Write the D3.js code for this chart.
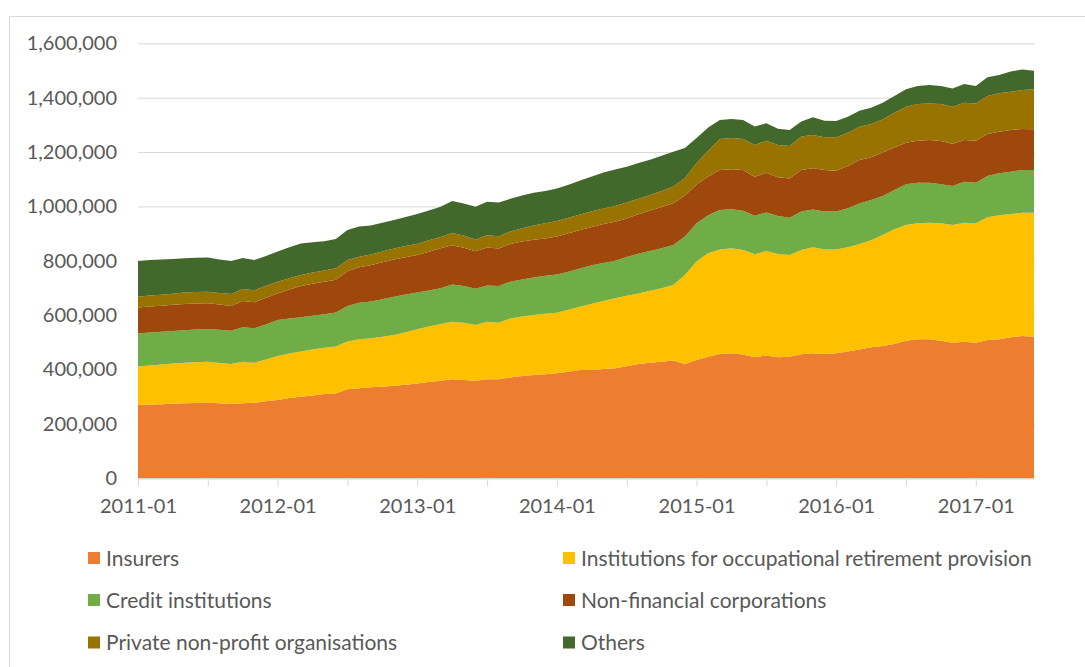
<!DOCTYPE html>
<html>
<head>
<meta charset="utf-8">
<title>Holdings by sector</title>
<script src="https://d3js.org/d3.v7.min.js"></script>
<style>
  body { margin: 0; background: #fff; }
  svg text { font-family: Lato, "Open Sans", sans-serif; fill: #595959; }
</style>
</head>
<body>
<svg id="chart" width="1085" height="667"></svg>
<script>

// months on the x axis, 2011-01 .. 2017-06
var months = d3.timeMonths(new Date(2011, 0, 1), new Date(2017, 6, 1)).map(d3.timeFormat("%Y-%m"));

// values, in thousands
var insurers = [270,271,272,274,276,277,278,276,273,276,278,283,288,295,300,305,310,312,328,331,
  335,337,340,344,349,354,359,364,362,359,364,364,371,376,380,383,386,392,398,398,
  402,405,412,420,425,429,433,420,435,447,457,460,455,445,452,445,447,456,460,457,
  460,466,474,482,487,494,506,511,511,506,499,502,499,509,511,519,523,521];
var iorp = [141,144,147,148,149,150,151,148,147,153,147,154,162,164,166,169,170,173,175,180,
  180,184,187,193,199,204,209,212,210,205,212,208,217,219,221,222,223,228,233,244,
  250,257,259,260,265,270,278,328,362,381,385,386,385,379,384,380,374,384,390,385,
  382,384,388,394,408,422,426,427,429,432,433,438,439,451,457,453,454,456];
var creditInst = [122,121,120,120,120,120,120,122,123,127,127,129,132,129,126,124,123,125,131,135,
  135,138,141,139,135,133,131,137,135,133,133,135,135,136,138,140,141,140,141,142,
  140,138,143,146,146,147,147,141,141,140,145,144,144,142,142,140,137,141,139,139,
  139,143,149,148,143,144,150,149,147,144,143,151,149,152,154,156,157,157];
var nonFinCorp = [95,96,96,96,96,96,95,93,91,96,96,98,98,106,115,118,120,120,128,130,
  134,136,137,137,138,142,147,144,141,138,140,138,139,140,138,137,139,141,141,140,
  143,144,142,145,149,152,154,151,143,142,147,147,150,142,146,142,145,153,151,153,
  150,156,160,157,160,157,152,155,157,159,155,153,155,154,153,153,151,150];
var privateNonProfit = [40,40,40,41,42,42,42,43,44,44,44,44,43,42,41,41,41,43,41,39,
  39,39,40,41,42,43,42,45,45,43,45,45,46,49,53,56,57,57,57,58,
  57,58,58,57,57,59,61,65,79,95,114,115,114,118,118,119,119,123,123,120,
  123,122,122,122,122,128,133,135,135,136,137,137,137,140,141,141,143,147];
var others = [131,131,130,128,126,126,126,123,121,114,111,110,111,114,116,111,108,107,110,111,
  107,106,105,107,109,109,111,118,118,121,123,124,120,120,120,119,120,122,125,128,
  133,134,132,132,130,129,128,110,92,85,70,70,70,68,64,60,59,55,65,61,
  60,59,59,60,61,61,64,66,68,66,67,69,64,69,67,74,76,68];

var seriesNames = ["Insurers", "Institutions for occupational retirement provision",
  "Credit institutions", "Non-financial corporations", "Private non-profit organisations", "Others"];
var seriesValues = [insurers, iorp, creditInst, nonFinCorp, privateNonProfit, others];
var colors = ["#ED7D31", "#FFC000", "#70AD47", "#9E480E", "#997300", "#43682B"];
var yTicks = [0, 200, 400, 600, 800, 1000, 1200, 1400, 1600];

var svg = d3.select("#chart");

// outer chart frame
svg.append("rect")
  .attr("x", 9.5).attr("y", 16.5)
  .attr("width", 1100).attr("height", 700)
  .attr("fill", "none").attr("stroke", "#D9D9D9");

var x = d3.scalePoint().domain(months).range([138, 1034]);
var y = d3.scaleLinear().domain([0, 1600]).range([478.3, 43.3]);

//-------- gridlines + y axis
var yAxis = svg.append("g")
  .attr("transform", "translate(138,0)")
  .call(d3.axisLeft(y).tickValues(yTicks).tickSize(-897).tickPadding(21)
    .tickFormat(function(d) { return d3.format(",")(d * 1000); }));
yAxis.select(".domain").remove();
yAxis.selectAll("line").attr("stroke", "#D9D9D9");
yAxis.selectAll("text").attr("font-size", 20);

//-------- stacked areas
var rows = months.map(function(m, i) {
  var r = { month: m };
  seriesNames.forEach(function(n, j) { r[n] = seriesValues[j][i]; });
  return r;
});
var stacked = d3.stack().keys(seriesNames)(rows);

var area = d3.area()
  .x(function(d) { return x(d.data.month); })
  .y0(function(d) { return y(d[0]); })
  .y1(function(d) { return y(d[1]); });

svg.append("g").selectAll("path")
  .data(stacked)
  .enter().append("path")
    .attr("d", area)
    .attr("fill", function(d, i) { return colors[i]; });

//-------- x axis
var xAxis = svg.append("g")
  .attr("transform", "translate(0,478.3)")
  .call(d3.axisBottom(x)
    .tickValues(months.filter(function(m, i) { return i % 6 === 0; }))
    .tickSize(8).tickSizeOuter(0).tickPadding(13)
    .tickFormat(function(m) { return m.slice(5) === "01" ? m : ""; }));
xAxis.select(".domain").attr("stroke", "#D9D9D9").attr("d", "M138,0.5H1035");
xAxis.selectAll("line").attr("stroke", "#D9D9D9");
xAxis.selectAll("text").attr("font-size", 20);

//-------- legend
var legendX = [88, 563];
var legendY = [558, 600, 642.5];
var legend = svg.append("g").selectAll("g")
  .data(seriesNames)
  .enter().append("g")
    .attr("transform", function(d, i) { return "translate(" + legendX[i % 2] + "," + legendY[Math.floor(i / 2)] + ")"; });
legend.append("rect")
  .attr("x", 0).attr("y", -6)
  .attr("width", 12).attr("height", 12)
  .attr("fill", function(d, i) { return colors[i]; });
legend.append("text")
  .attr("x", 18).attr("dy", "0.36em")
  .attr("font-size", 21)
  .text(function(d) { return d; });

</script>
</body>
</html>
